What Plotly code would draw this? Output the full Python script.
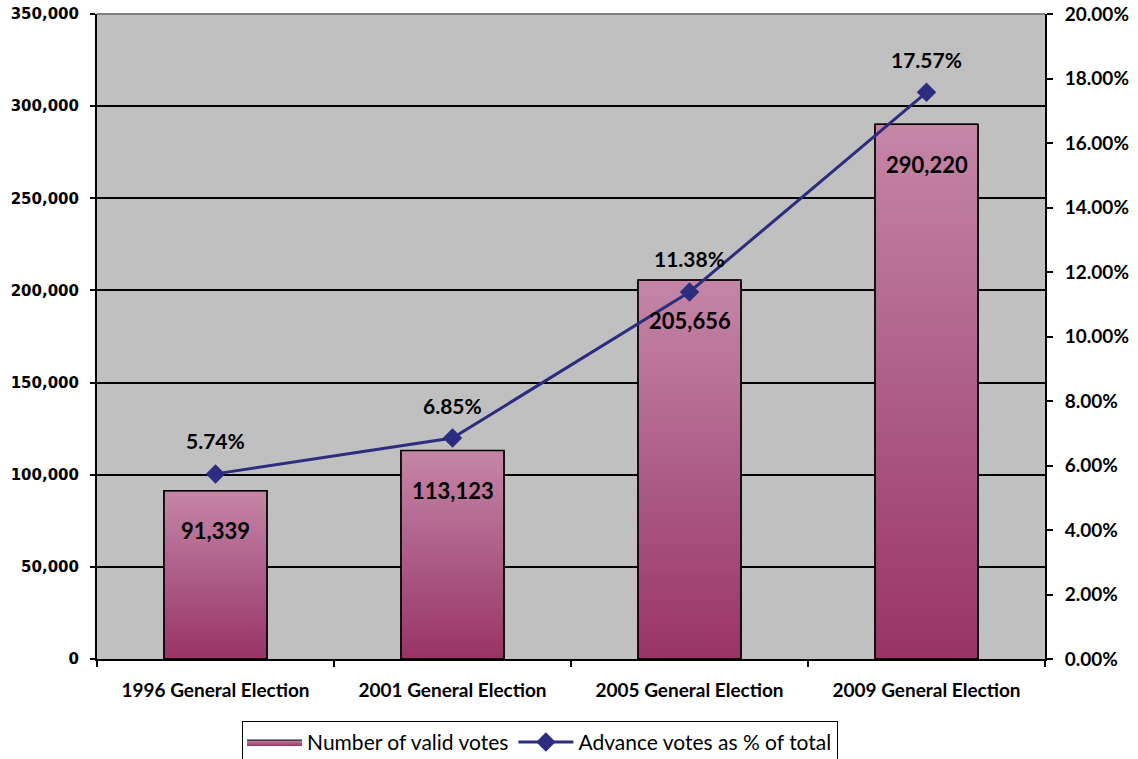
import plotly.graph_objects as go

CATEGORIES = ["1996 General Election", "2001 General Election",
              "2005 General Election", "2009 General Election"]
VALID_VOTES = [91339, 113123, 205656, 290220]
ADVANCE_PCT = [5.74, 6.85, 11.38, 17.57]

BAR_WIDTH = 0.435
LINE_COLOR = "#2D2D80"
GRADIENT = [[0, "#993366"], [0.5, "#AD5D88"], [1, "#C586A6"]]

x_idx = list(range(len(CATEGORIES)))
pct_frac = [p / 100 for p in ADVANCE_PCT]

fig = go.Figure()

# gradient fills of the bars (drawn on the left value axis)
half = BAR_WIDTH / 2
for i, v in enumerate(VALID_VOTES):
    fig.add_trace(go.Scatter(
        x=[i - half, i - half, i + half, i + half, i - half],
        y=[0, v, v, 0, 0],
        mode="lines", fill="toself",
        fillgradient=dict(type="vertical", colorscale=GRADIENT),
        line=dict(color="black", width=1),
        name="Number of valid votes", legendgroup="bars",
        showlegend=(i == 0), hoverinfo="skip",
        yaxis="y",
    ))

# bars (outline) on an overlay of the same scale
fig.add_trace(go.Bar(
    x=x_idx, y=VALID_VOTES, width=BAR_WIDTH,
    marker=dict(color="rgba(0,0,0,0)", line=dict(color="black", width=1.5)),
    showlegend=False, yaxis="y2", name="Number of valid votes",
))

# line on percentage axis
fig.add_trace(go.Scatter(
    x=x_idx, y=pct_frac, mode="lines+markers",
    line=dict(color=LINE_COLOR, width=3),
    marker=dict(symbol="diamond", size=15, color=LINE_COLOR),
    name="Advance votes as % of total", yaxis="y3",
))

annotations = []
for i, v in enumerate(VALID_VOTES):
    annotations.append(dict(
        x=i, y=v, xref="x", yref="y", text=f"{v:,}", showarrow=False,
        yshift=-40, font=dict(family="Lato", size=22, color="black", weight="bold"),
    ))
for i, p in enumerate(ADVANCE_PCT):
    annotations.append(dict(
        x=i, y=pct_frac[i], xref="x", yref="y3", text=f"{p:.2f}%", showarrow=False,
        yshift=33, font=dict(family="Lato", size=21, color="black", weight="bold"),
    ))

fig.update_layout(
    width=1138, height=759,
    margin=dict(l=97, r=93, t=14, b=100, autoexpand=False),
    paper_bgcolor="white", plot_bgcolor="#C0C0C0",
    barmode="overlay",
    xaxis=dict(
        range=[-0.5, 3.5], tickmode="array", tickvals=x_idx, ticktext=CATEGORIES,
        ticks="", showgrid=False, zeroline=False, automargin=False,
        showline=True, linecolor="black", linewidth=1.5,
        tickfont=dict(family="Lato", size=19, color="black", weight="bold"),
        ticklabelstandoff=13,
        minor=dict(tick0=-0.5, dtick=1, ticks="outside", ticklen=6,
                   tickcolor="black", tickwidth=1.5, showgrid=False),
    ),
    yaxis=dict(
        range=[0, 350000], dtick=50000, tickformat=",d", automargin=False,
        showgrid=True, gridcolor="black", gridwidth=1.5, zeroline=False,
        showline=True, linecolor="black", linewidth=2,
        ticks="outside", ticklen=5, tickcolor="black", tickwidth=1.5,
        tickfont=dict(family="DejaVu Sans", size=15, color="black", weight="bold"),
        ticklabelstandoff=8,
    ),
    yaxis2=dict(range=[0, 350000], overlaying="y", visible=False),
    yaxis3=dict(
        range=[0, 0.20], dtick=0.02, tickformat=".2%", overlaying="y", side="right",
        showgrid=False, zeroline=False, automargin=False,
        showline=True, linecolor="black", linewidth=2,
        ticks="outside", ticklen=6, tickcolor="black", tickwidth=1.5,
        tickfont=dict(family="Lato", size=19, color="black", weight="bold"),
        ticklabelstandoff=8,
    ),
    legend=dict(
        orientation="h", x=0.153, xanchor="left", y=-0.096, yanchor="top",
        bordercolor="black", borderwidth=1, bgcolor="white",
        font=dict(family="Lato", size=21, color="black"),
        itemwidth=55, tracegroupgap=0,
    ),
    annotations=annotations,
    shapes=[dict(type="line", xref="paper", yref="paper", x0=0, x1=1, y0=1, y1=1,
                 line=dict(color="#808080", width=2), layer="above")],
)

fig.write_html("out.html", post_script="document.body.style.margin='0';",
               config={"displayModeBar": False})
